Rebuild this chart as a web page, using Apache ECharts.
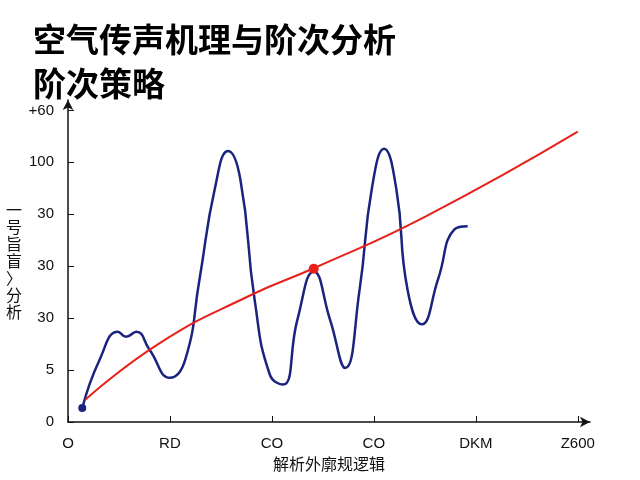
<!DOCTYPE html><html><head><meta charset="utf-8"><script src="https://cdn.jsdelivr.net/npm/echarts@6/dist/echarts.min.js"></script></head><body style="margin:0"><div id="c" style="width:640px;height:480px"></div><script>
const xLabels=['O','RD','CO','CO','DKM','Z600'];
const yLabels=['0','5','30','30','30','100','+60'];
const blueX=[0.14,0.31,0.49,0.57,0.67,0.80,1.0,1.15,1.29,1.44,1.57,1.69,1.83,1.98,2.11,2.25,2.41,2.57,2.72,2.86,2.98,3.10,3.22,3.33,3.47,3.63,3.79,3.92];
const blueY=[0.27,1.20,1.74,1.64,1.74,1.39,0.85,1.20,2.75,4.49,5.22,4.68,2.36,0.91,0.72,1.97,2.90,1.97,1.04,2.55,4.49,5.26,4.49,2.55,1.88,2.75,3.71,3.77];
const redX=[0.17,0.9,1.8,2.41,3.5,5.0];
const redY=[0.43,1.52,2.45,2.96,3.95,5.59];
const mark=[2.41,2.95];
const ch=echarts.init(document.getElementById('c'));
const ax={lineStyle:{color:'#111',width:1.5}};
ch.setOption({animation:false,
title:{text:'空气传声机理与阶次分析\n阶次策略',left:28,top:12,textStyle:{fontSize:33,fontWeight:'bold',color:'#000',lineHeight:44,fontFamily:'Noto Sans CJK SC'}},
grid:{left:68,right:50,top:100,bottom:58},
xAxis:{type:'value',min:0,max:5.12,interval:1,axisLine:{lineStyle:ax.lineStyle,symbol:['none','arrow'],symbolSize:[8,10]},axisTick:{show:true,length:6,inside:true,lineStyle:{color:'#111'}},splitLine:{show:false},
axisLabel:{showMaxLabel:false,margin:14,fontSize:15,color:'#111',formatter:v=>xLabels[Math.round(v)]},
name:'解析外廓规逻辑',nameLocation:'middle',nameGap:33,nameTextStyle:{fontSize:16,color:'#111',fontFamily:'Noto Sans CJK SC'}},
yAxis:{type:'value',min:0,max:6.2,interval:1,axisLine:{show:true,lineStyle:ax.lineStyle,symbol:['none','arrow'],symbolSize:[8,10]},axisTick:{show:true,length:6,inside:true,lineStyle:{color:'#111'}},splitLine:{show:false},
axisLabel:{showMaxLabel:false,margin:14,fontSize:15,color:'#111',formatter:v=>yLabels[Math.round(v)]},
name:'一\n号\n旨\n盲\n〉\n分\n析',nameLocation:'middle',nameRotate:0,nameGap:46,nameTextStyle:{fontSize:16,color:'#111',lineHeight:17,fontFamily:'Noto Sans CJK SC'}},
series:[
{type:'line',smooth:0.5,data:blueX.map((x,i)=>[x,blueY[i]]),lineStyle:{color:'#1a237e',width:2.5},showSymbol:false,
markPoint:{symbol:'circle',symbolSize:8,itemStyle:{color:'#1a237e'},label:{show:false},data:[{coord:[blueX[0],blueY[0]]}]}},
{type:'line',smooth:0.5,data:redX.map((x,i)=>[x,redY[i]]),lineStyle:{color:'#e8201a',width:2},showSymbol:false,
markPoint:{symbol:'circle',symbolSize:10,itemStyle:{color:'#e8201a'},label:{show:false},data:[{coord:mark}]}}
]});
</script></body></html>
